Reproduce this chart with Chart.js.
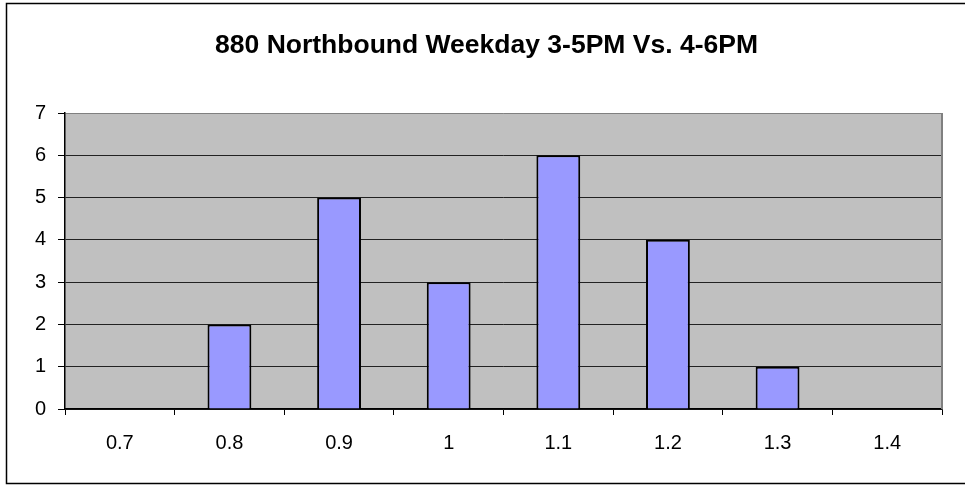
<!DOCTYPE html>
<html>
<head>
<meta charset="utf-8">
<script src="https://cdn.jsdelivr.net/npm/chart.js@4"></script>
<style>
html,body{margin:0;padding:0;background:#fff;}
#wrap{width:965px;height:485px;position:relative;}
</style>
</head>
<body>
<div id="wrap"><canvas id="c" width="965" height="485"></canvas></div>
<script>
const titleText = "880 Northbound Weekday 3-5PM Vs. 4-6PM";
const categories = ["0.7", "0.8", "0.9", "1", "1.1", "1.2", "1.3", "1.4"];
const counts = [0, 2, 5, 3, 6, 4, 1, 0];
const yMin = 0, yMax = 7, yStep = 1;

const framePlugin = {
  id: 'frame',
  beforeDraw(chart) {
    const c = chart.ctx, a = chart.chartArea;
    c.save();
    c.fillStyle = '#ffffff';
    c.fillRect(0, 0, chart.width, chart.height);
    c.strokeStyle = '#000000';
    c.lineWidth = 1.5;
    c.beginPath();
    c.moveTo(chart.width + 2, 3.5);
    c.lineTo(6.5, 3.5);
    c.lineTo(6.5, 483.5);
    c.lineTo(chart.width + 2, 483.5);
    c.stroke();
    c.fillStyle = '#C0C0C0';
    c.fillRect(a.left, a.top, a.right - a.left, a.bottom - a.top);
    c.restore();
  },
  afterDraw(chart) {
    const c = chart.ctx, a = chart.chartArea;
    c.save();
    c.strokeStyle = '#808080';
    c.lineWidth = 2;
    c.beginPath();
    c.moveTo(a.right, a.top);
    c.lineTo(a.right, a.bottom);
    c.stroke();
    c.fillStyle = '#000';
    c.font = 'bold 26.5px "Liberation Sans", Arial, sans-serif';
    c.textAlign = 'center';
    c.textBaseline = 'middle';
    c.fillText(titleText, 486.5, 46);
    c.restore();
  }
};

new Chart(document.getElementById('c'), {
  type: 'bar',
  data: {
    labels: categories,
    datasets: [{
      data: counts,
      backgroundColor: '#9999FF',
      borderColor: '#000000',
      borderWidth: 2,
      barPercentage: 0.4,
      categoryPercentage: 1.0
    }]
  },
  options: {
    responsive: false,
    animation: false,
    devicePixelRatio: 1,
    layout: { padding: { left: 0, right: 23, top: 113, bottom: 0 } },
    plugins: {
      legend: { display: false },
      tooltip: { enabled: false },
      title: { display: false }
    },
    scales: {
      x: {
        grid: {
          offset: true,
          drawOnChartArea: false,
          drawTicks: true,
          tickLength: 6,
          tickColor: '#000',
          tickWidth: 1
        },
        border: { display: true, color: '#000', width: 1.5 },
        ticks: {
          color: '#000',
          font: { family: 'Liberation Sans, Arial, sans-serif', size: 20 },
          padding: 16,
          maxRotation: 0,
          autoSkip: false
        },
        afterFit(s) { s.height = 76; }
      },
      y: {
        min: yMin,
        max: yMax,
        grid: {
          color: (ctx) => (ctx.tick && ctx.tick.value === yMax) ? '#808080' : '#222222',
          lineWidth: 1,
          drawTicks: true,
          tickLength: 7,
          tickColor: '#000'
        },
        border: { display: true, color: '#000', width: 1.5 },
        ticks: {
          stepSize: yStep,
          color: '#000',
          font: { family: 'Liberation Sans, Arial, sans-serif', size: 20 },
          padding: 12
        },
        afterFit(s) { s.width = 65; }
      }
    }
  },
  plugins: [framePlugin]
});
</script>
</body>
</html>
